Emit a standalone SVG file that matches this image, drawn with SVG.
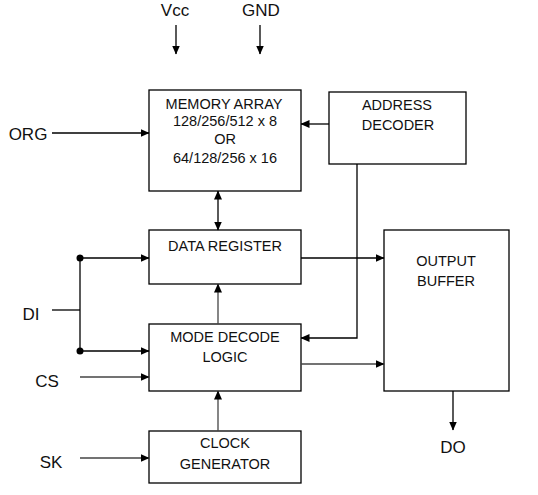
<svg xmlns="http://www.w3.org/2000/svg" width="538" height="495" viewBox="0 0 538 495">
<defs>
<marker id="ah" markerWidth="9" markerHeight="8" refX="8.5" refY="4" orient="auto" markerUnits="userSpaceOnUse"><path d="M0,0 L9,4 L0,8 Z" fill="#000"/></marker>
<marker id="as" markerWidth="9" markerHeight="8" refX="0.5" refY="4" orient="auto" markerUnits="userSpaceOnUse"><path d="M9,0 L0,4 L9,8 Z" fill="#000"/></marker>
</defs>
<style>
.box{fill:#fff;stroke:#000;stroke-width:1.3}
.t{font-family:"Liberation Sans",Arial,sans-serif;font-size:14.5px;fill:#111;text-anchor:middle}
.l{font-family:"Liberation Sans",Arial,sans-serif;font-size:17px;fill:#111;text-anchor:middle}
.c{fill:none;stroke:#000;stroke-width:1.3}
.g{fill:none;stroke:#444;stroke-width:1.3}
</style>
<rect width="538" height="495" fill="#fff"/>
<g id="labels">
<text class="l" x="175" y="16">Vcc</text>
<text class="l" x="261" y="16">GND</text>
<text class="l" x="28" y="140">ORG</text>
<text class="l" x="31" y="320">DI</text>
<text class="l" x="47" y="387">CS</text>
<text class="l" x="51" y="468">SK</text>
<text class="l" x="453" y="453">DO</text>
</g>
<g id="memory-array">
<rect class="box" x="149" y="90" width="152" height="101"/>
<text class="t" x="224" y="109">MEMORY ARRAY</text>
<text class="t" x="225" y="126">128/256/512 x 8</text>
<text class="t" x="225" y="144">OR</text>
<text class="t" x="225" y="163">64/128/256 x 16</text>
</g>
<g id="address-decoder">
<rect class="box" x="329" y="92" width="137" height="72"/>
<text class="t" x="397" y="110">ADDRESS</text>
<text class="t" x="398" y="130">DECODER</text>
</g>
<g id="data-register">
<rect class="box" x="149" y="230" width="152" height="54"/>
<text class="t" x="225" y="251">DATA REGISTER</text>
</g>
<g id="mode-decode-logic">
<rect class="box" x="149" y="324" width="152" height="67"/>
<text class="t" x="225" y="342">MODE DECODE</text>
<text class="t" x="225" y="362">LOGIC</text>
</g>
<g id="clock-generator">
<rect class="box" x="149" y="431" width="152" height="52"/>
<text class="t" x="225" y="448">CLOCK</text>
<text class="t" x="225" y="469">GENERATOR</text>
</g>
<g id="output-buffer">
<rect class="box" x="384" y="230" width="125" height="161"/>
<text class="t" x="446" y="266">OUTPUT</text>
<text class="t" x="446" y="286">BUFFER</text>
</g>
<g id="connectors">
<line class="c" x1="176" y1="25" x2="176" y2="54" marker-end="url(#ah)"/>
<line class="c" x1="260" y1="25" x2="260" y2="54" marker-end="url(#ah)"/>
<line class="c" x1="52" y1="133" x2="149" y2="133" marker-end="url(#ah)"/>
<line class="c" x1="329" y1="124" x2="301" y2="124" marker-end="url(#ah)"/>
<line class="c" x1="218" y1="191" x2="218" y2="230" marker-start="url(#as)" marker-end="url(#ah)"/>
<polyline class="c" points="357,164 357,338 301,338" marker-end="url(#ah)"/>
<line class="c" x1="301" y1="258" x2="384" y2="258" marker-end="url(#ah)"/>
<line class="g" x1="301" y1="364" x2="384" y2="364" marker-end="url(#ah)"/>
<line class="c" x1="52" y1="310" x2="80" y2="310"/>
<line class="c" x1="80" y1="258" x2="80" y2="351"/>
<circle cx="80" cy="258" r="3.5" fill="#000"/>
<circle cx="80" cy="351" r="3.5" fill="#000"/>
<line class="c" x1="80" y1="258" x2="149" y2="258" marker-end="url(#ah)"/>
<line class="c" x1="80" y1="351" x2="149" y2="351" marker-end="url(#ah)"/>
<line class="g" x1="80" y1="377" x2="149" y2="377" marker-end="url(#ah)"/>
<line class="g" x1="80" y1="458" x2="149" y2="458" marker-end="url(#ah)"/>
<line class="g" x1="218" y1="324" x2="218" y2="284" marker-end="url(#ah)"/>
<line class="g" x1="218" y1="431" x2="218" y2="391" marker-end="url(#ah)"/>
<line class="c" x1="453" y1="391" x2="453" y2="430" marker-end="url(#ah)"/>
</g>
</svg>
